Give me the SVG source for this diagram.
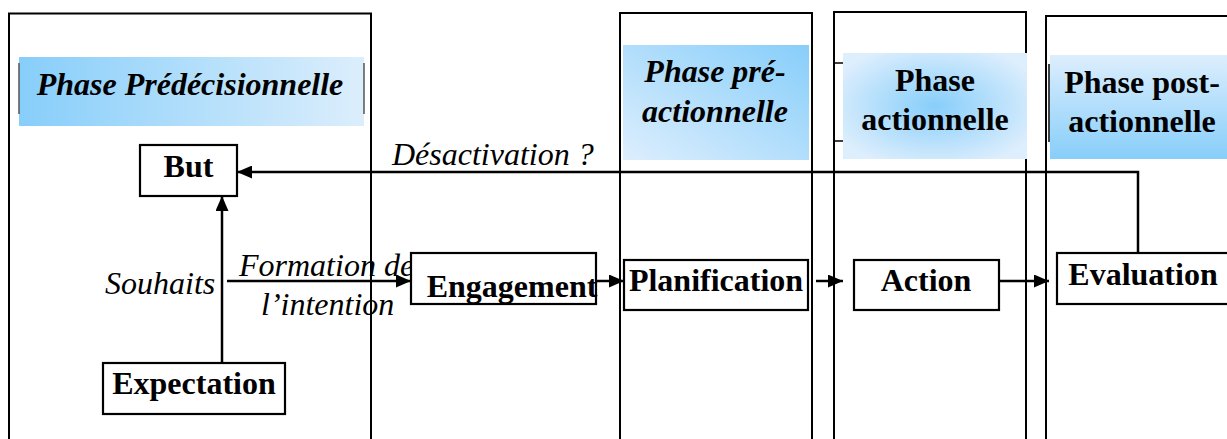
<svg xmlns="http://www.w3.org/2000/svg" width="1227" height="439" viewBox="0 0 1227 439">
  <defs>
    <linearGradient id="g1" x1="0" y1="0" x2="1" y2="0">
      <stop offset="0" stop-color="#87CEFA"/>
      <stop offset="1" stop-color="#DCEEFC"/>
    </linearGradient>
    <linearGradient id="g2" x1="0" y1="1" x2="1" y2="0">
      <stop offset="0" stop-color="#DDEEFD"/>
      <stop offset="1" stop-color="#87CEFA"/>
    </linearGradient>
    <radialGradient id="g3" cx="0.5" cy="0.5" r="0.6">
      <stop offset="0" stop-color="#87CEFA"/>
      <stop offset="1" stop-color="#DDEEFD"/>
    </radialGradient>
    <linearGradient id="g4" x1="0" y1="0" x2="0" y2="1">
      <stop offset="0" stop-color="#DDEEFD"/>
      <stop offset="1" stop-color="#87CEFA"/>
    </linearGradient>
    <marker id="arr" markerUnits="userSpaceOnUse" markerWidth="15" markerHeight="13" refX="15" refY="6.5" orient="auto">
      <path d="M0,0 L15,6.5 L0,13 Z" fill="#000"/>
    </marker>
    <style>
      .col { fill: none; stroke: #000; stroke-width: 2; }
      .box { fill: #fff; stroke: #000; stroke-width: 2.2; }
      .edge { stroke: #555; stroke-width: 1.5; }
      .conn { fill: none; stroke: #000; stroke-width: 2.5; marker-end: url(#arr); }
      text { font-family: "Liberation Serif", "Times New Roman", serif; font-size: 32px; fill: #000; }
      .node { font-weight: bold; text-anchor: middle; }
      .hbi { font-weight: bold; font-style: italic; text-anchor: middle; }
      .hb { font-weight: bold; text-anchor: middle; }
      .lbl { font-style: italic; }
    </style>
  </defs>

  <g id="columns">
    <rect class="col" x="9" y="13.5" width="362" height="500"/>
    <rect class="col" x="620" y="13" width="192" height="500"/>
    <rect class="col" x="834" y="12" width="192" height="500"/>
    <rect class="col" x="1046" y="16" width="220" height="500"/>
  </g>

  <g id="phase-predecisionnelle">
    <rect x="19" y="57" width="345" height="69" fill="url(#g1)"/>
    <line class="edge" x1="19" y1="63" x2="19" y2="114"/>
    <line class="edge" x1="364" y1="63" x2="364" y2="114"/>
    <text class="hbi" x="190" y="95">Phase Prédécisionnelle</text>
  </g>

  <g id="phase-preactionnelle">
    <rect x="623" y="45" width="186" height="115" fill="url(#g2)"/>
    <text class="hbi" x="715" y="82">Phase pré-</text>
    <text class="hbi" x="715" y="122">actionnelle</text>
  </g>

  <g id="phase-actionnelle">
    <line x1="834" y1="63" x2="843" y2="63" stroke="#000" stroke-width="1.5"/>
    <line x1="834" y1="141" x2="843" y2="141" stroke="#000" stroke-width="1.5"/>
    <rect x="843" y="53" width="184" height="106" fill="url(#g3)"/>
    <text class="hb" x="935" y="91">Phase</text>
    <text class="hb" x="935" y="130">actionnelle</text>
  </g>

  <g id="phase-postactionnelle">
    <rect x="1050" y="55" width="180" height="104" fill="url(#g4)"/>
    <line x1="1049" y1="64" x2="1049" y2="142" stroke="#000" stroke-width="1.5"/>
    <text class="hb" x="1142" y="93">Phase post-</text>
    <text class="hb" x="1142" y="132">actionnelle</text>
  </g>

  <g id="connectors">
    <path class="conn" d="M1138,253 V172 H237"/>
    <path class="conn" d="M222,363 V196"/>
    <path class="conn" d="M227,281 H411"/>
    <path class="conn" d="M596,281 H624"/>
    <path class="conn" d="M816,281 H843"/>
    <path class="conn" d="M999,281 H1049"/>
  </g>

  <g id="labels">
    <text class="lbl" x="392" y="165">Désactivation ?</text>
    <text class="lbl" x="105" y="294">Souhaits</text>
    <text class="lbl" x="239" y="276">Formation de</text>
    <text class="lbl" x="261" y="315">l’intention</text>
  </g>

  <g id="but">
    <rect class="box" x="140" y="145" width="97" height="51"/>
    <text class="node" x="188.5" y="177">But</text>
  </g>

  <g id="expectation">
    <rect class="box" x="103" y="363" width="182" height="51"/>
    <text class="node" x="194" y="394">Expectation</text>
  </g>

  <g id="engagement">
    <rect class="box" x="411" y="253" width="185" height="51"/>
    <text class="node" x="512" y="297">Engagement</text>
  </g>

  <g id="planification">
    <rect class="box" x="624" y="260" width="184" height="50"/>
    <text class="node" x="716" y="291">Planification</text>
  </g>

  <g id="action">
    <rect class="box" x="854" y="260" width="145" height="50"/>
    <text class="node" x="926" y="291">Action</text>
  </g>

  <g id="evaluation">
    <rect class="box" x="1057" y="253" width="190" height="51"/>
    <text class="node" x="1143" y="285">Evaluation</text>
  </g>
</svg>
